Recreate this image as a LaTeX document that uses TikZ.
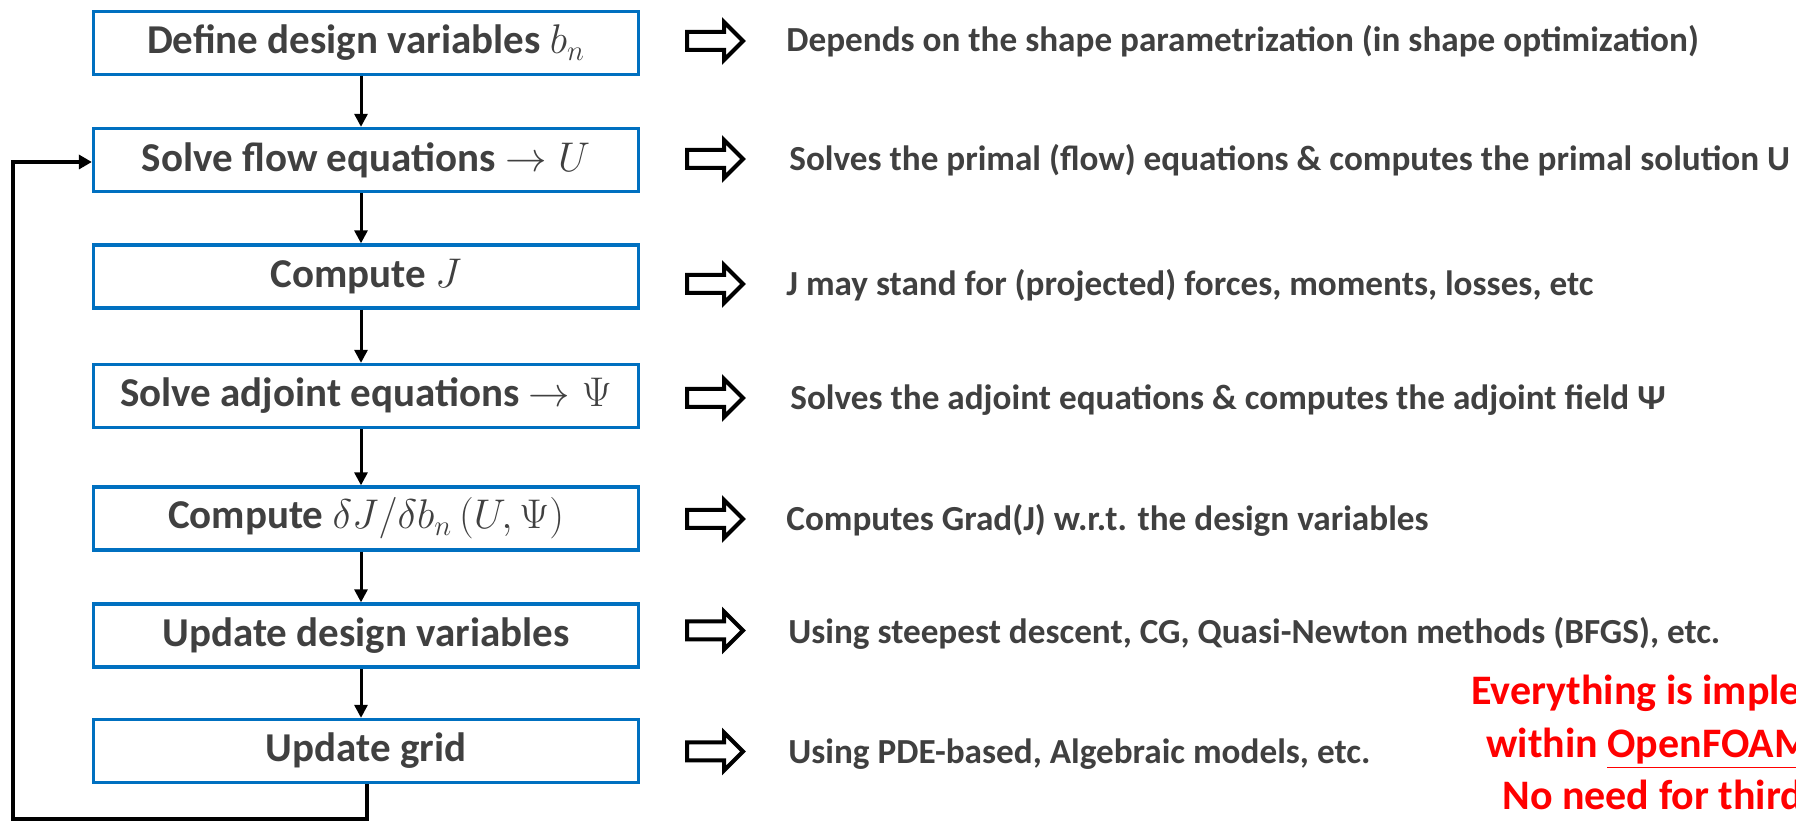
\documentclass[tikz,border=0pt]{standalone}
\usepackage{fontspec}
\setmainfont{Carlito}
\usetikzlibrary{arrows.meta}
\definecolor{txtgray}{HTML}{404040}
\definecolor{boxblue}{HTML}{0070C0}
\definecolor{redtxt}{HTML}{FF0000}
\tikzset{
  stepbox/.style={draw=boxblue, line width=1.65pt, minimum width=272.5pt, minimum height=31.5pt,
    inner sep=0pt, font=\fontsize{20.5}{24}\selectfont\bfseries, text=txtgray},
  flow/.style={line width=1.5pt, -{Triangle[length=6.5pt,width=6.5pt]}},
  loopline/.style={line width=2pt, -{Triangle[length=6.5pt,width=7pt]}},
  note/.style={anchor=west, font=\fontsize{17.6}{21}\selectfont\bfseries, text=txtgray, inner sep=0pt},
  blockarrow/.style={draw=black, line width=2pt, fill=white, line join=miter},
  remark/.style={anchor=base west, font=\fontsize{21}{25}\selectfont\bfseries, text=redtxt, inner sep=0pt},
  barrow/.pic={\draw[blockarrow] (-28,-9) -- (9,-9) -- (9,-19) -- (28,0) -- (9,19) -- (9,9) -- (-28,9) -- cycle;}
}
\begin{document}
\begin{tikzpicture}[x=0.5pt,y=-0.5pt]
\clip (0,0) rectangle (1796,822);
\fill[white] (0,0) rectangle (1796,822);
% boxes
\node[stepbox] (b1) at (366,43) {Define design variables $b_n$};
\node[stepbox] (b2) at (366,160) {Solve flow equations $\rightarrow U$};
\node[stepbox] (b3) at (366,276.5) {Compute $J$};
\node[stepbox] (b4) at (366,396) {Solve adjoint equations $\rightarrow \Psi$};
\node[stepbox] (b5) at (366,518.5) {Compute $\delta J/\delta b_n\,(U,\Psi)$};
\node[stepbox] (b6) at (366,635.5) {Update design variables};
\node[stepbox] (b7) at (366,751) {Update grid};
% vertical flow arrows
\coordinate (ax) at (361,0);
\draw[flow] (b1.south -| ax) -- (b2.north -| ax);
\draw[flow] (b2.south -| ax) -- (b3.north -| ax);
\draw[flow] (b3.south -| ax) -- (b4.north -| ax);
\draw[flow] (b4.south -| ax) -- (b5.north -| ax);
\draw[flow] (b5.south -| ax) -- (b6.north -| ax);
\draw[flow] (b6.south -| ax) -- (b7.north -| ax);
% loop back
\coordinate (l0) at (367,0);
\coordinate (l1) at (367,819);
\coordinate (l2) at (12.5,819);
\coordinate (l3) at (12.5,162);
\draw[loopline] (b7.south -| l0) -- (l1) -- (l2) -- (l3) -- (l3 -| b2.west);
% block arrows
\pic at (715,41) {barrow};
\pic at (715,159) {barrow};
\pic at (715,284) {barrow};
\pic at (715,398) {barrow};
\pic at (715,519) {barrow};
\pic at (715,630.5) {barrow};
\pic at (715,751.5) {barrow};
% notes
\node[note] (n1) at (786,41) {Depends on the shape parametrization (in shape optimization)};
\node[note] (n2) at (789,160) {Solves the primal (flow) equations \& computes the primal solution U};
\node[note] (n3) at (786,285) {J may stand for (projected) forces, moments, losses, etc};
\node[note] (n4) at (790,400) {Solves the adjoint equations \& computes the adjoint field Ψ};
\node[note] (n5) at (786,520) {Computes Grad(J) w.r.t. the design variables};
\node[note] (n6) at (788,633) {Using steepest descent, CG, Quasi-Newton methods (BFGS), etc.};
\node[note] (n7) at (788,754) {Using PDE-based, Algebraic models, etc.};
% red remark
\node[remark] (r1) at (1471,705) {Everything is implemented};
\node[remark] (r2) at (1486,758) {within \underline{OpenFOAM}};
\node[remark] (r3) at (1502,810) {No need for third-party software};
\end{tikzpicture}
\end{document}
